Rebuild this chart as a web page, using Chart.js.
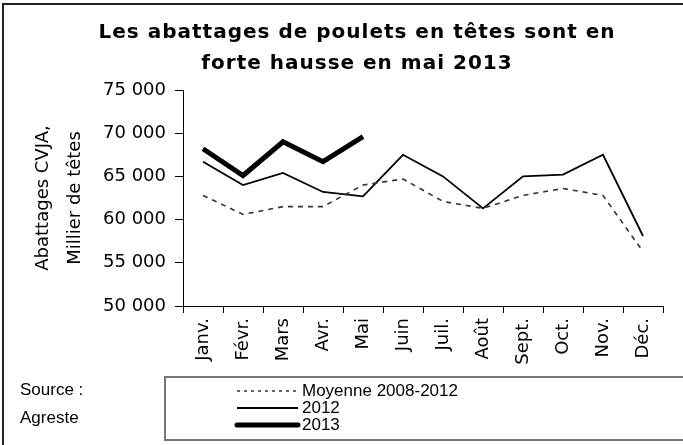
<!DOCTYPE html>
<html>
<head>
<meta charset="utf-8">
<script src="https://cdn.jsdelivr.net/npm/chart.js@4/dist/chart.umd.min.js"></script>
<style>
  html, body { margin: 0; padding: 0; background: #fff; }
  #wrap { position: relative; width: 683px; height: 445px; }
</style>
</head>
<body>
<div id="wrap"><canvas id="abattagesChart"></canvas></div>
<script>
  // données (milliers de têtes)
  const mois = ['Janv.', 'Févr.', 'Mars', 'Avr.', 'Mai', 'Juin', 'Juil.', 'Août', 'Sept.', 'Oct.', 'Nov.', 'Déc.'];
  const moyenne = [62800, 60600, 61500, 61500, 64000, 64700, 62100, 61300, 62800, 63600, 62800, 56300];
  const annee2012 = [66700, 64000, 65400, 63200, 62700, 67500, 65000, 61300, 65000, 65200, 67500, 58100];
  const annee2013 = [68200, 65100, 69000, 66700, 69600];
  const yTicks = [50000, 55000, 60000, 65000, 70000, 75000];
  const titre = ['Les abattages de poulets en têtes sont en', 'forte hausse en mai 2013'];
  const titreAxe = ['Abattages CVJA,', 'Millier de têtes'];
  const source = ['Source :', 'Agreste'];

  const fmt = v => String(v).replace(/\B(?=(\d{3})+(?!\d))/g, ' ');

  // titre, cadre, source et légende dessinés à la main
  const decor = {
    id: 'decor',
    afterDraw(chart) {
      const ctx = chart.ctx;
      ctx.save();
      ctx.strokeStyle = '#222';
      ctx.lineWidth = 2;
      ctx.strokeRect(3, 4, 720, 520);

      ctx.fillStyle = '#000';
      ctx.font = 'bold 20px "DejaVu Sans"';
      ctx.letterSpacing = '1px';
      ctx.textAlign = 'center';
      ctx.textBaseline = 'middle';
      ctx.fillText(titre[0], 357, 33);
      ctx.fillText(titre[1], 357, 64);
      ctx.letterSpacing = '0px';

      ctx.textAlign = 'left';
      ctx.font = '17px "Liberation Sans", Arial';
      ctx.fillText(source[0], 20, 390);
      ctx.fillText(source[1], 20, 418);

      // légende
      ctx.strokeStyle = '#777';
      ctx.lineWidth = 2;
      ctx.strokeRect(165, 377, 560, 63);
      ctx.font = '17px "Liberation Sans", Arial';
      chart.data.datasets.forEach((ds, i) => {
        const y = 391 + i * 17;
        ctx.beginPath();
        ctx.setLineDash(ds.borderWidth < 1.7 ? [3, 4] : []);
        ctx.lineWidth = ds.borderWidth;
        ctx.lineCap = ds.borderWidth > 3 ? 'round' : 'butt';
        ctx.strokeStyle = ds.borderColor;
        ctx.moveTo(237, y);
        ctx.lineTo(298, y);
        ctx.stroke();
        ctx.setLineDash([]);
        ctx.fillStyle = '#000';
        ctx.fillText(ds.label, 302, y);
      });
      ctx.restore();
    }
  };

  new Chart(document.getElementById('abattagesChart'), {
    type: 'line',
    data: {
      labels: mois,
      datasets: [
        { label: 'Moyenne 2008-2012', data: moyenne, borderColor: '#333', borderWidth: 1.6, borderDash: [5, 5] },
        { label: '2012', data: annee2012, borderColor: '#000', borderWidth: 1.8 },
        { label: '2013', data: annee2013, borderColor: '#000', borderWidth: 5 }
      ]
    },
    options: {
      responsive: true,
      maintainAspectRatio: false,
      animation: false,
      layout: { padding: { top: 90, left: 0, right: 20, bottom: 0 } },
      elements: { point: { radius: 0 }, line: { tension: 0 } },
      plugins: { legend: { display: false }, title: { display: false }, tooltip: { enabled: false } },
      scales: {
        x: {
          offset: true,
          afterFit: s => { s.height = 139; },
          grid: { offset: true, drawOnChartArea: false, tickLength: 7, color: '#000' },
          border: { color: '#000', width: 1 },
          ticks: {
            autoSkip: false, minRotation: 90, maxRotation: 90, padding: 5,
            color: '#000', font: { family: '"DejaVu Sans"', size: 18 }
          }
        },
        y: {
          min: 50000,
          max: 75000,
          afterFit: s => { s.width = 183; },
          afterBuildTicks: s => { s.ticks = yTicks.map(v => ({ value: v })); },
          grid: { drawOnChartArea: false, tickLength: 8, color: '#000' },
          border: { color: '#000', width: 1 },
          ticks: {
            padding: 9, color: '#000', callback: v => fmt(v),
            font: { family: '"DejaVu Sans"', size: 18 }
          },
          title: {
            display: true, text: titreAxe, color: '#000',
            font: { family: '"DejaVu Sans"', size: 18, lineHeight: 1.75 },
            padding: { top: 28, bottom: 0 }
          }
        }
      }
    },
    plugins: [decor]
  });
</script>
</body>
</html>
